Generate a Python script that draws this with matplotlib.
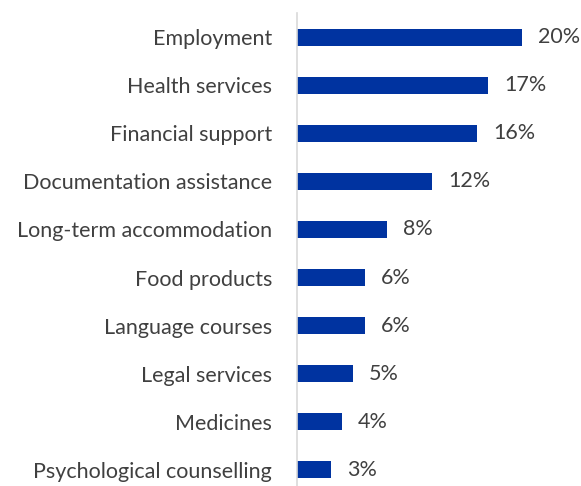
import matplotlib
matplotlib.use("Agg")
import matplotlib.pyplot as plt

categories = ["Employment", "Health services", "Financial support",
              "Documentation assistance", "Long-term accommodation",
              "Food products", "Language courses", "Legal services",
              "Medicines", "Psychological counselling"]
shares = [20, 17, 16, 12, 8, 6, 6, 5, 4, 3]

plt.rcParams['font.family'] = ['Lato', 'DejaVu Sans']

fig = plt.figure(figsize=(5.81, 4.86), dpi=100)
# axes a bit taller than the figure so the last row's spacing runs off the bottom
ax = fig.add_axes([297 / 581, -7.5 / 486, 281.25 / 581, 480 / 486])

pos = list(range(len(categories)))
ax.barh(pos, shares, height=0.354, color="#0033A0")
ax.set_ylim(len(categories) - 0.5, -0.5)
ax.set_xlim(0, 25)

for y, v in zip(pos, shares):
    ax.annotate(f"{v}%", (v, y), xytext=(11.5, 0), textcoords="offset points",
                va="center", ha="left", fontsize=15.5, color="#404040")

ax.set_yticks(pos)
ax.set_yticklabels(categories, fontsize=15.5, color="#404040")
ax.tick_params(axis="y", length=0, pad=18)
ax.set_xticks([])
for s in ["top", "right", "bottom"]:
    ax.spines[s].set_visible(False)
ax.spines["left"].set_color("#d9d9d9")
ax.spines["left"].set_linewidth(1.2)

fig.savefig("out.png", dpi=100)
